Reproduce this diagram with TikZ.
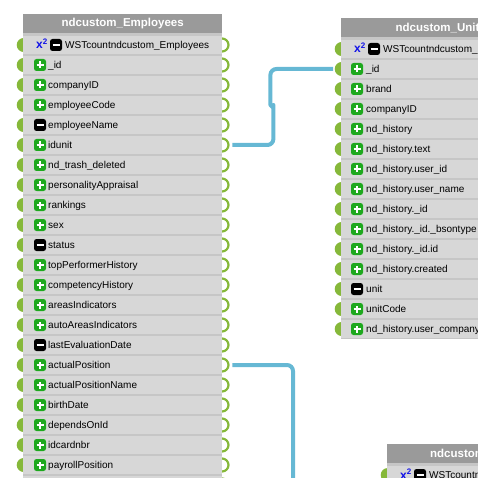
\documentclass[tikz,border=0pt]{standalone}
\usepackage{fontspec}
\setmainfont{Liberation Sans}
\usepackage{xcolor}
\usetikzlibrary{positioning}

\definecolor{rowgrey}{HTML}{D7D7D7}
\definecolor{sepgrey}{HTML}{C6C6C6}
\definecolor{titlegrey}{HTML}{9A9A9A}
\definecolor{portgreen}{HTML}{86B83A}
\definecolor{plusgreen}{HTML}{1EA81E}
\definecolor{linkblue}{HTML}{66B8D4}
\definecolor{xblue}{HTML}{1212E8}

\tikzset{
  titlebar/.style={fill=titlegrey, anchor=north west, inner sep=0pt,
    minimum width=199pt, minimum height=19pt, text=white,
    font=\bfseries\fontsize{11.5}{12}\selectfont},
  row/.style={fill=rowgrey, anchor=west, inner sep=0pt,
    minimum width=199pt, minimum height=18pt},
  field/.style={anchor=base west, inner sep=0pt, font=\fontsize{10}{12}\selectfont},
  sqr/.style={xblue, anchor=base west, inner sep=0pt,
    font=\bfseries\fontsize{12}{12}\selectfont},
  plusbox/.style={rectangle, rounded corners=2.5pt, fill=plusgreen,
    minimum size=12pt, inner sep=0pt,
    path picture={\draw[white, line width=2pt]
      ([xshift=-3.5pt]path picture bounding box.center) -- ++(7,0)
      ([yshift=-3.5pt]path picture bounding box.center) -- ++(0,-7);}},
  minusbox/.style={rectangle, rounded corners=2.5pt, fill=black,
    minimum size=12pt, inner sep=0pt,
    path picture={\draw[white, line width=2.2pt]
      ([xshift=-3.5pt]path picture bounding box.center) -- ++(7,0);}},
  outport/.style={draw=portgreen, line width=2.2pt},
  link/.style={draw=linkblue, line width=4pt, line join=round},
}

\begin{document}
\begin{tikzpicture}[x=1pt, y=-1pt]
  \useasboundingbox (0,0) rectangle (478,478);
  \clip (0,0) rectangle (478,478);

  % ports (the tables hide half of each)
  \foreach \i in {0,...,22} {
    \fill[portgreen] (23.7,45+20*\i) circle (7pt);
    \draw[outport] (222,45+20*\i) circle (6.5pt);
  }
  \foreach \i in {0,...,14}
    \fill[portgreen] (341.7,49+20*\i) circle (7pt);
  \fill[portgreen] (387.7,475) circle (7pt);

  % ndcustom_Employees
  \fill[sepgrey] (23,33) rectangle (222,500);
  \node[titlebar] (emp) at (23,14) {ndcustom\_Employees};
  \node[row] (emp-0) at (23,45) {};
  \node[sqr] at ([xshift=13pt,yshift=-4pt]emp-0.west) {x\textsuperscript{2}};
  \node[minusbox] at ([xshift=33pt]emp-0.west) {};
  \node[field] at ([xshift=42pt,yshift=-3.6pt]emp-0.west) {WSTcountndcustom\_Employees};
  \foreach \i/\txt/\ic in {1/\_id/plusbox, 2/companyID/plusbox,
      3/employeeCode/plusbox, 4/employeeName/minusbox, 5/idunit/plusbox,
      6/nd\_trash\_deleted/plusbox, 7/personalityAppraisal/plusbox,
      8/rankings/plusbox, 9/sex/plusbox, 10/status/minusbox,
      11/topPerformerHistory/plusbox, 12/competencyHistory/plusbox,
      13/areasIndicators/plusbox, 14/autoAreasIndicators/plusbox,
      15/lastEvaluationDate/minusbox, 16/actualPosition/plusbox,
      17/actualPositionName/plusbox, 18/birthDate/plusbox,
      19/dependsOnId/plusbox, 20/idcardnbr/plusbox,
      21/payrollPosition/plusbox} {
    \node[row] (emp-\i) at (23,45+20*\i) {};
    \node[\ic] at ([xshift=17pt]emp-\i.west) {};
    \node[field] at ([xshift=25pt,yshift=-3.6pt]emp-\i.west) {\txt};
    \coordinate (emp-\i-r) at ([xshift=10pt]emp-\i.east);
  }
  \node[row] (emp-22) at (23,485) {};

  % ndcustom_Units
  \fill[sepgrey] (341,37) rectangle (540,339);
  \node[titlebar] (unit) at (341,18) {ndcustom\_Units};
  \node[row] (unit-0) at (341,49) {};
  \node[sqr] at ([xshift=13pt,yshift=-4pt]unit-0.west) {x\textsuperscript{2}};
  \node[minusbox] at ([xshift=33pt]unit-0.west) {};
  \node[field] at ([xshift=42pt,yshift=-3.6pt]unit-0.west) {WSTcountndcustom\_Units};
  \foreach \i/\txt/\ic in {1/\_id/plusbox, 2/brand/plusbox,
      3/companyID/plusbox, 4/nd\_history/plusbox,
      5/nd\_history.text/plusbox, 6/nd\_history.user\_id/plusbox,
      7/nd\_history.user\_name/plusbox, 8/nd\_history.\_id/plusbox,
      9/nd\_history.\_id.\_bsontype/plusbox, 10/nd\_history.\_id.id/plusbox,
      11/nd\_history.created/plusbox, 12/unit/minusbox,
      13/unitCode/plusbox, 14/nd\_history.user\_company/plusbox} {
    \node[row] (unit-\i) at (341,49+20*\i) {};
    \node[\ic] at ([xshift=16pt]unit-\i.west) {};
    \node[field] at ([xshift=25pt,yshift=-3.6pt]unit-\i.west) {\txt};
    \coordinate (unit-\i-l) at ([xshift=-8pt]unit-\i.west);
  }

  % ndcustom_Positions
  \fill[sepgrey] (387,463) rectangle (586,500);
  \node[titlebar] (pos) at (387,444) {ndcustom\_Positions};
  \node[row] (pos-0) at (387,475) {};
  \node[sqr] at ([xshift=13pt,yshift=-4pt]pos-0.west) {x\textsuperscript{2}};
  \node[minusbox] at ([xshift=33pt]pos-0.west) {};
  \node[field] at ([xshift=42pt,yshift=-3.6pt]pos-0.west) {WSTcountndcustom\_Positions};
  \coordinate (pos-in) at (293,500);

  % links
  \draw[link] (emp-5-r) [rounded corners=6pt] -- ++(41,0) -- ++(0,-34)
    [sharp corners] -- ++(0,-3) -- ++(-3,-3) -- ++(0,-2)
    [rounded corners=6pt] |- (unit-1-l);
  \draw[link, rounded corners=6pt] (emp-16-r) -| (pos-in);
\end{tikzpicture}
\end{document}
